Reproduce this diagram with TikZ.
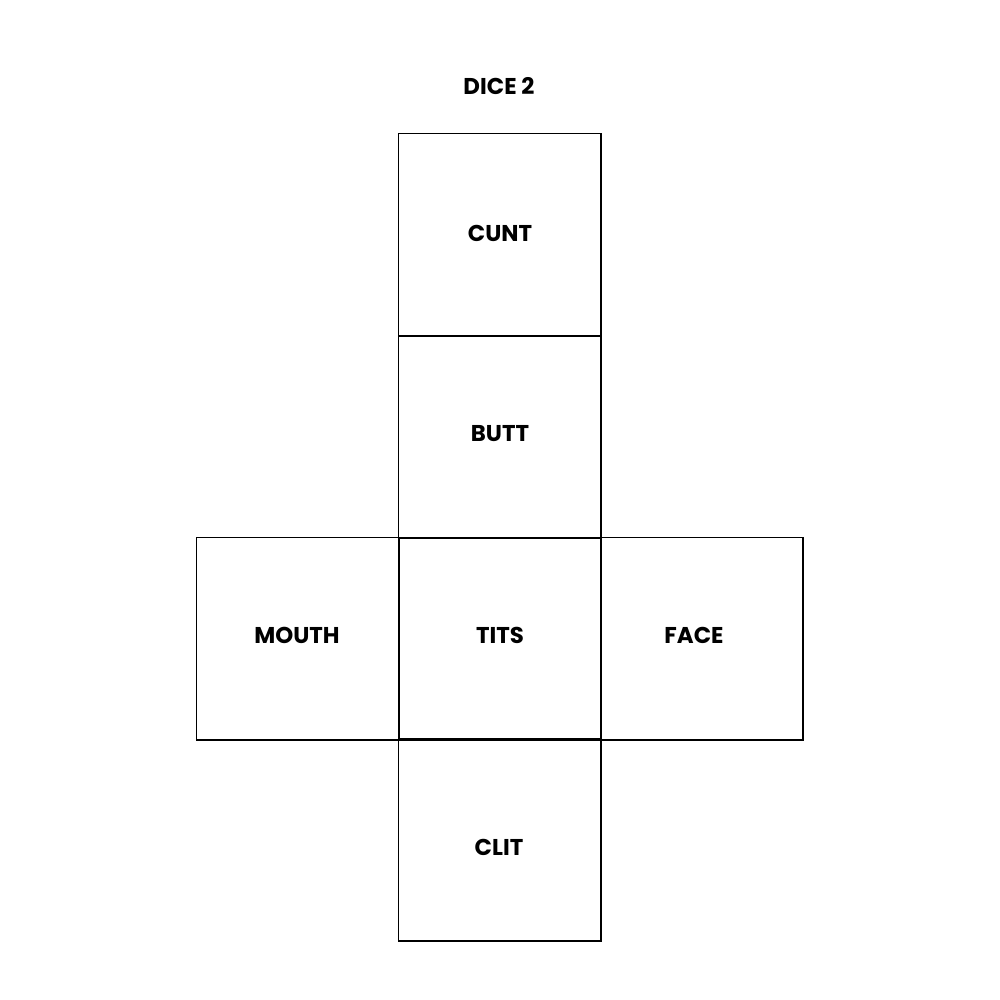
\documentclass[tikz,border=0pt]{standalone}
\usepackage{fontspec}
\setmainfont{Poppins}
\begin{document}
\begin{tikzpicture}[x=0.01cm,y=-0.01cm,
  face/.style={draw=black,line width=0.4pt,minimum size=2.02cm,inner sep=0pt,anchor=north west},
  lbl/.style={font=\fontsize{6.5}{7}\selectfont\bfseries,inner sep=0pt}]
\useasboundingbox[fill=white] (0,0) rectangle (1000,1000);
\node[lbl] (title) at (499,86) {DICE 2};
\node[face] (top) at (398,133) {};
\node[face] (back) at (398,335) {};
\node[face] (left) at (196,537) {};
\node[face] (mid) at (398,537) {};
\node[face] (right) at (600,537) {};
\node[face] (bot) at (398,738) {};
\node[lbl] (t1) at (500,233) {CUNT};
\node[lbl] (t2) at (500,434) {BUTT};
\node[lbl] (t3) at (297,635) {MOUTH};
\node[lbl] (t4) at (500,635) {TITS};
\node[lbl] (t5) at (694,635) {FACE};
\node[lbl] (t6) at (499,847) {CLIT};
\end{tikzpicture}
\end{document}
